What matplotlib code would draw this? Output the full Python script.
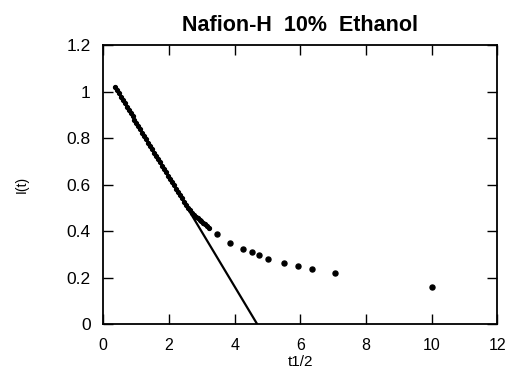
import matplotlib
matplotlib.use("Agg")
import matplotlib.pyplot as plt

# Dense measured points along the initial linear region
x_dense = [0.35, 0.41, 0.47, 0.53, 0.59, 0.65, 0.71, 0.77, 0.83, 0.89,
           0.95, 1.01, 1.07, 1.13, 1.19, 1.25, 1.31, 1.37, 1.43, 1.49,
           1.55, 1.61, 1.67, 1.73, 1.79, 1.85, 1.91, 1.97, 2.03, 2.09,
           2.15, 2.21, 2.27, 2.33, 2.39, 2.45, 2.51, 2.57, 2.63, 2.69,
           2.75, 2.81, 2.87, 2.93, 2.99, 3.05, 3.11, 3.17, 3.23]
y_dense = [1.020, 1.006, 0.992, 0.978, 0.964, 0.950, 0.935, 0.921, 0.907, 0.893,
           0.879, 0.865, 0.851, 0.837, 0.823, 0.809, 0.794, 0.780, 0.766, 0.752,
           0.738, 0.724, 0.710, 0.696, 0.682, 0.668, 0.653, 0.639, 0.625, 0.611,
           0.597, 0.583, 0.569, 0.555, 0.541, 0.527, 0.514, 0.501, 0.490, 0.479,
           0.470, 0.463, 0.456, 0.449, 0.443, 0.436, 0.429, 0.422, 0.415]

# Sparse points at later times
x_sparse = [3.45, 3.86, 4.26, 4.52, 4.74, 5.01, 5.49, 5.94, 6.35, 7.06, 10.0]
y_sparse = [0.388, 0.348, 0.322, 0.311, 0.296, 0.282, 0.265, 0.250, 0.238, 0.219, 0.159]

# Linear fit line endpoints
fit_x = [0.35, 4.69]
fit_y = [1.02, 0.0]

x_ticks = [0, 2, 4, 6, 8, 10, 12]
y_ticks = [0, 0.2, 0.4, 0.6, 0.8, 1.0, 1.2]
y_tick_labels = ["0", "0.2", "0.4", "0.6", "0.8", "1", "1.2"]

plt.rcParams['font.family'] = ['Liberation Sans', 'DejaVu Sans']

fig = plt.figure(figsize=(5.07, 3.70), dpi=100)
ax = fig.add_axes([103.3 / 507, 1 - 324.3 / 370, 394 / 507, 279.3 / 370])

ax.plot(fit_x, fit_y, color='black', linewidth=1.6, zorder=2)
ax.plot(x_dense, y_dense, linestyle='none', marker='o', markersize=2.8,
        color='black', zorder=3)
ax.plot(x_sparse, y_sparse, linestyle='none', marker='o', markersize=3.6,
        color='black', zorder=3)

ax.set_xlim(0, 12)
ax.set_ylim(0, 1.2)
ax.set_xticks(x_ticks)
ax.set_xticklabels([str(t) for t in x_ticks])
ax.set_yticks(y_ticks)
ax.set_yticklabels(y_tick_labels)

ax.tick_params(direction='in', length=7, width=1.0, top=True, right=True)
ax.tick_params(axis='x', labelsize=11.5, pad=10)
ax.tick_params(axis='y', labelsize=12.5, pad=9)
for s in ax.spines.values():
    s.set_linewidth(1.3)

ax.set_title("Nafion-H  10%  Ethanol", fontsize=15.5, fontweight='bold', pad=10)
ax.set_xlabel("t1/2", fontsize=11, labelpad=1)
ax.set_ylabel("I(t)", fontsize=10)
ax.yaxis.set_label_coords(-0.19, 0.5)

fig.savefig("out.png", dpi=100)
